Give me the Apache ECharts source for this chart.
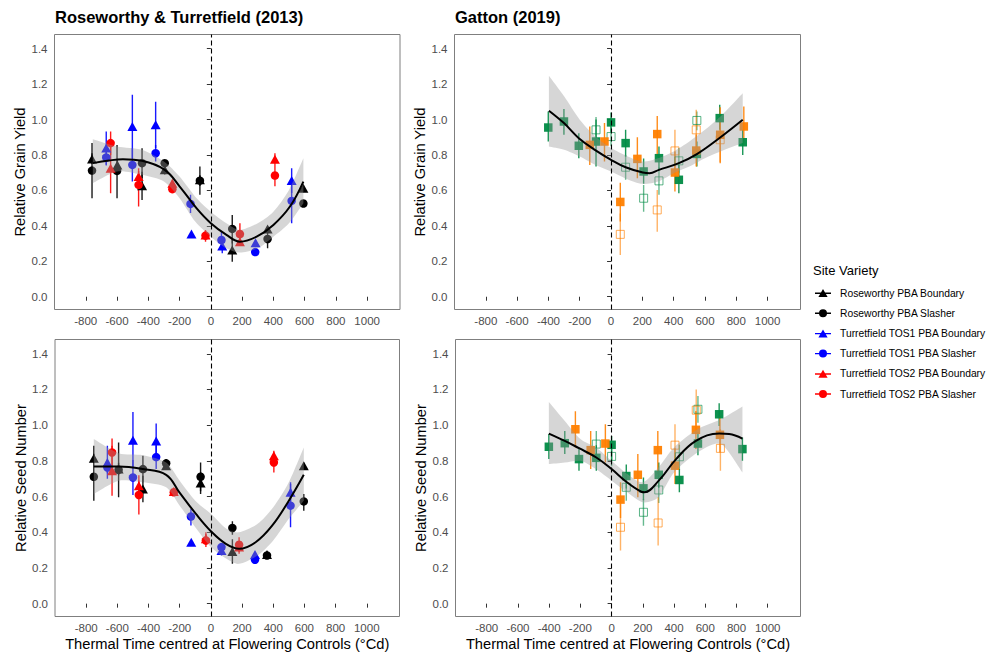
<!DOCTYPE html>
<html>
<head>
<meta charset="utf-8">
<script src="https://cdn.jsdelivr.net/npm/echarts@6/dist/echarts.min.js"></script>
<style>
html,body{margin:0;padding:0;background:#ffffff;}
#chart{width:987px;height:657px;}
</style>
</head>
<body>
<div id="chart"></div>
<script>
// ---------- texts and ticks ----------
const xTicks = [-800, -600, -400, -200, 0, 200, 400, 600, 800, 1000];
const yTicks = [0, 0.2, 0.4, 0.6, 0.8, 1.0, 1.2, 1.4];
const panelTitles = ['Roseworthy & Turretfield (2013)', 'Gatton (2019)'];
const yAxisNames = ['Relative Grain Yield', 'Relative Seed Number'];
const xAxisName = 'Thermal Time centred at Flowering Controls (°Cd)';
const legendTitle = 'Site Variety';
const legendNames = ['Roseworthy PBA Boundary', 'Roseworthy PBA Slasher',
  'Turretfield TOS1 PBA Boundary', 'Turretfield TOS1 PBA Slasher',
  'Turretfield TOS2 PBA Boundary', 'Turretfield TOS2 PBA Slasher'];

// ---------- Grain yield, Roseworthy & Turretfield: [x, y, low, high] ----------
const gyRwBoundary = [[-760,0.778,0.75,0.81],[-598,0.744,0.71,0.77],[-440,0.626,0.546,0.706],[-295,0.716,0.69,0.74],[-70,0.660,0.575,0.735],[137,0.264,0.198,0.33],[363,0.383,0.368,0.398],[592,0.612,0.59,0.63]];
const gyRwSlasher = [[-760,0.712,0.556,0.867],[-600,0.710,0.556,0.857],[-440,0.754,0.67,0.838],[-295,0.754,0.735,0.763],[-70,0.655,0.625,0.685],[137,0.383,0.30,0.462],[363,0.326,0.273,0.38],[592,0.526,0.51,0.54]];
const gyTos1Boundary = [[-669,0.839,0.745,0.933],[-502,0.961,0.78,1.14],[-353,0.970,0.84,1.10],[-124,0.354,0.345,0.363],[73,0.286,0.245,0.327],[286,0.305,0.29,0.32],[517,0.656,0.586,0.725]];
const gyTos1Slasher = [[-669,0.786,0.74,0.83],[-502,0.744,0.65,0.838],[-353,0.810,0.763,0.857],[-130,0.524,0.472,0.575],[68,0.320,0.27,0.37],[284,0.252,0.24,0.264],[517,0.541,0.415,0.667]];
const gyTos2Boundary = [[-641,0.725,0.584,0.866],[-462,0.678,0.65,0.71],[-246,0.640,0.62,0.66],[-34,0.349,0.32,0.377],[186,0.311,0.292,0.33],[410,0.776,0.744,0.81]];
const gyTos2Slasher = [[-641,0.867,0.80,0.933],[-462,0.631,0.509,0.725],[-246,0.607,0.59,0.625],[-34,0.345,0.311,0.37],[186,0.354,0.292,0.415],[410,0.684,0.624,0.744]];

// ---------- Seed number, Roseworthy & Turretfield ----------
const snRwBoundary = [[-751,0.814,0.79,0.84],[-592,0.754,0.72,0.79],[-436,0.642,0.568,0.716],[-287,0.773,0.75,0.795],[-66,0.676,0.614,0.738],[138,0.292,0.223,0.361],[360,0.276,0.26,0.29],[596,0.773,0.76,0.79]];
const snRwSlasher = [[-751,0.711,0.577,0.884],[-592,0.750,0.596,0.903],[-436,0.754,0.68,0.829],[-287,0.786,0.76,0.81],[-66,0.711,0.63,0.791],[138,0.424,0.386,0.462],[360,0.270,0.26,0.28],[596,0.573,0.521,0.614]];
const snTos1Boundary = [[-664,0.791,0.70,0.884],[-500,0.916,0.758,1.074],[-351,0.912,0.815,1.009],[-126,0.344,0.335,0.355],[68,0.298,0.27,0.33],[283,0.276,0.265,0.29],[511,0.624,0.57,0.68]];
const snTos1Slasher = [[-664,0.763,0.73,0.80],[-500,0.707,0.609,0.805],[-351,0.821,0.754,0.888],[-128,0.488,0.438,0.531],[68,0.317,0.29,0.34],[283,0.246,0.235,0.257],[511,0.549,0.428,0.67]];
const snTos2Boundary = [[-634,0.745,0.605,0.885],[-462,0.661,0.63,0.69],[-238,0.629,0.61,0.65],[-32,0.363,0.33,0.40],[181,0.317,0.29,0.345],[404,0.829,0.80,0.856]];
const snTos2Slasher = [[-634,0.847,0.77,0.925],[-462,0.609,0.50,0.72],[-238,0.624,0.61,0.64],[-32,0.354,0.317,0.39],[181,0.330,0.28,0.372],[404,0.791,0.735,0.846]];

// ---------- Grain yield, Gatton ----------
const gyGatGreenFilled = [[-401,0.955,0.876,1.046],[-301,0.989,0.914,1.059],[-206,0.852,0.782,0.923],[-96,0.876,0.735,1.0],[0,0.984,0.93,1.04],[93,0.867,0.79,0.942],[208,0.707,0.637,0.78],[306,0.782,0.716,0.848],[433,0.660,0.584,0.744],[548,0.806,0.735,0.876],[694,1.008,0.942,1.083],[841,0.872,0.80,0.942]];
const gyGatGreenOpen = [[-96,0.942,0.87,1.014],[0,0.904,0.85,0.96],[93,0.731,0.66,0.80],[208,0.556,0.48,0.63],[306,0.654,0.575,0.73],[433,0.767,0.70,0.84],[548,0.995,0.94,1.046]];
const gyGatOrangeFilled = [[-136,0.857,0.744,0.961],[-42,0.876,0.763,0.98],[59,0.535,0.425,0.644],[168,0.778,0.669,0.90],[295,0.918,0.79,1.02],[408,0.701,0.594,0.82],[544,0.825,0.735,0.915],[697,0.914,0.754,1.07],[848,0.961,0.857,1.074]];
const gyGatOrangeOpen = [[59,0.352,0.235,0.47],[295,0.490,0.367,0.603],[408,0.823,0.70,0.942],[544,0.942,0.82,1.055],[697,0.886,0.76,1.01]];

// ---------- Seed number, Gatton ----------
const snGatGreenFilled = [[-402,0.879,0.81,0.95],[-300,0.899,0.838,0.968],[-209,0.810,0.745,0.875],[-98,0.817,0.745,0.887],[0,0.890,0.80,0.94],[94,0.715,0.645,0.78],[204,0.646,0.58,0.707],[302,0.722,0.65,0.791],[434,0.693,0.624,0.754],[553,0.897,0.832,0.962],[689,1.061,0.996,1.123],[838,0.866,0.80,0.931]];
const snGatGreenOpen = [[-98,0.894,0.82,0.968],[0,0.825,0.77,0.88],[94,0.652,0.577,0.727],[204,0.512,0.437,0.587],[302,0.637,0.564,0.71],[434,0.823,0.75,0.89],[553,1.089,1.014,1.164]];
const snGatOrangeFilled = [[-232,0.977,0.875,1.078],[-134,0.860,0.754,0.968],[-40,0.897,0.791,1.005],[57,0.583,0.48,0.68],[168,0.722,0.596,0.838],[296,0.860,0.726,0.968],[406,0.773,0.67,0.87],[540,0.974,0.866,1.08],[694,0.946,0.847,1.052]];
const snGatOrangeOpen = [[57,0.428,0.298,0.56],[298,0.452,0.326,0.596],[406,0.888,0.77,1.005],[542,1.084,0.96,1.20],[697,0.870,0.745,0.977]];

// ---------- smooth fits [x, y] and confidence ribbons [x, low, high] ----------
const fitGyRt = [[-755,0.754],[-650,0.769],[-562,0.776],[-440,0.767],[-295,0.716],[-199,0.622],[-92,0.50],[0,0.415],[100,0.349],[186,0.311],[293,0.339],[400,0.405],[506,0.509],[592,0.65]];
const ciGyRt = [[-755,0.641,0.889],[-600,0.707,0.848],[-440,0.688,0.829],[-300,0.65,0.763],[-200,0.556,0.678],[-100,0.424,0.565],[0,0.339,0.48],[100,0.273,0.415],[186,0.249,0.377],[300,0.273,0.415],[400,0.339,0.48],[500,0.415,0.603],[592,0.528,0.782]];
const fitGyGat = [[-397,1.05],[-301,0.98],[-206,0.895],[-96,0.825],[0,0.773],[93,0.731],[204,0.701],[246,0.697],[306,0.716],[433,0.754],[548,0.805],[697,0.899],[841,0.999]];
const ciGyGat = [[-397,0.848,1.247],[-300,0.829,1.131],[-200,0.791,0.999],[-100,0.744,0.904],[0,0.707,0.839],[100,0.665,0.795],[200,0.637,0.763],[300,0.65,0.782],[400,0.697,0.82],[500,0.735,0.876],[600,0.782,0.942],[700,0.82,1.018],[841,0.867,1.149]];
const fitSnRt = [[-751,0.769],[-592,0.769],[-436,0.754],[-287,0.722],[-202,0.624],[-96,0.503],[0,0.406],[96,0.335],[181,0.307],[287,0.344],[394,0.438],[500,0.577],[596,0.722]];
const ciSnRt = [[-751,0.614,0.922],[-592,0.689,0.843],[-436,0.68,0.832],[-287,0.652,0.791],[-200,0.549,0.689],[-100,0.428,0.577],[0,0.317,0.503],[100,0.251,0.419],[181,0.223,0.40],[300,0.27,0.447],[400,0.354,0.54],[500,0.475,0.68],[596,0.577,0.875]];
const fitSnGat = [[-402,0.953],[-300,0.912],[-209,0.871],[-98,0.819],[0,0.754],[94,0.683],[190,0.627],[210,0.624],[302,0.689],[413,0.81],[540,0.912],[689,0.953],[753,0.95],[838,0.925]];
const ciSnGat = [[-402,0.782,1.13],[-300,0.791,1.024],[-200,0.80,0.922],[-100,0.754,0.875],[0,0.689,0.80],[100,0.624,0.726],[200,0.568,0.68],[300,0.596,0.763],[400,0.735,0.875],[550,0.847,0.977],[700,0.894,1.033],[838,0.735,1.104]];

// ---------- styling ----------
const FONT = '"Liberation Sans", Arial, Helvetica, sans-serif';
const BLACK = '#000000', BLUE = '#0000FF', RED = '#FF0000';
const GREEN = '#008B45', ORANGE = '#FF8000';
const triIcon = 'path://M0,4.3H16V5.7H0Z M8,0.8L12.6,8.8H3.4Z';
const circIcon = 'path://M0,4.3H16V5.7H0Z M4,5A4,4 0 1,1 12,5A4,4 0 1,1 4,5Z';

const grids = [
  {left: 54.5, top: 34.5, width: 345.5, height: 275},
  {left: 454.5, top: 34.5, width: 346, height: 275},
  {left: 55, top: 339.5, width: 344.5, height: 277},
  {left: 455.5, top: 339.5, width: 345, height: 277}
];

const panels = [
  {g: 0, fit: fitGyRt, ci: ciGyRt, groups: [
    {name: legendNames[0], data: gyRwBoundary, color: BLACK, shape: 'tri'},
    {name: legendNames[1], data: gyRwSlasher, color: BLACK, shape: 'circ'},
    {name: legendNames[2], data: gyTos1Boundary, color: BLUE, shape: 'tri'},
    {name: legendNames[3], data: gyTos1Slasher, color: BLUE, shape: 'circ'},
    {name: legendNames[4], data: gyTos2Boundary, color: RED, shape: 'tri'},
    {name: legendNames[5], data: gyTos2Slasher, color: RED, shape: 'circ'}]},
  {g: 1, fit: fitGyGat, ci: ciGyGat, groups: [
    {name: 'Gatton A', data: gyGatGreenFilled, color: GREEN, shape: 'sq'},
    {name: 'Gatton B', data: gyGatGreenOpen, color: GREEN, shape: 'open'},
    {name: 'Gatton C', data: gyGatOrangeFilled, color: ORANGE, shape: 'sq'},
    {name: 'Gatton D', data: gyGatOrangeOpen, color: ORANGE, shape: 'open'}]},
  {g: 2, fit: fitSnRt, ci: ciSnRt, groups: [
    {name: legendNames[0], data: snRwBoundary, color: BLACK, shape: 'tri'},
    {name: legendNames[1], data: snRwSlasher, color: BLACK, shape: 'circ'},
    {name: legendNames[2], data: snTos1Boundary, color: BLUE, shape: 'tri'},
    {name: legendNames[3], data: snTos1Slasher, color: BLUE, shape: 'circ'},
    {name: legendNames[4], data: snTos2Boundary, color: RED, shape: 'tri'},
    {name: legendNames[5], data: snTos2Slasher, color: RED, shape: 'circ'}]},
  {g: 3, fit: fitSnGat, ci: ciSnGat, groups: [
    {name: 'Gatton A', data: snGatGreenFilled, color: GREEN, shape: 'sq'},
    {name: 'Gatton B', data: snGatGreenOpen, color: GREEN, shape: 'open'},
    {name: 'Gatton C', data: snGatOrangeFilled, color: ORANGE, shape: 'sq'},
    {name: 'Gatton D', data: snGatOrangeOpen, color: ORANGE, shape: 'open'}]}
];

// Catmull-Rom -> cubic bezier path through pixel points
function curvePath(pts, start) {
  let s = start ? ('M' + pts[0][0] + ',' + pts[0][1]) : ('L' + pts[0][0] + ',' + pts[0][1]);
  const t = 0.8;
  for (let i = 0; i < pts.length - 1; i++) {
    const p0 = pts[Math.max(0, i - 1)], p1 = pts[i], p2 = pts[i + 1], p3 = pts[Math.min(pts.length - 1, i + 2)];
    const c1x = p1[0] + (p2[0] - p0[0]) / 6 * t, c1y = p1[1] + (p2[1] - p0[1]) / 6 * t;
    const c2x = p2[0] - (p3[0] - p1[0]) / 6 * t, c2y = p2[1] - (p3[1] - p1[1]) / 6 * t;
    s += 'C' + c1x + ',' + c1y + ' ' + c2x + ',' + c2y + ' ' + p2[0] + ',' + p2[1];
  }
  return s;
}

const series = [];
panels.forEach(function (p) {
  // error bars
  p.groups.forEach(function (grp) {
    const col = grp.color;
    const op = grp.shape === 'open' ? 0.6 : 0.9;
    series.push({
      type: 'custom', name: grp.name + ' (error)', xAxisIndex: p.g, yAxisIndex: p.g,
      data: grp.data.map(function (d) { return [d[0], d[2], d[3]]; }),
      encode: {x: 0, y: [1, 2]}, silent: true, z: 2, clip: true,
      renderItem: function (params, api) {
        const a = api.coord([api.value(0), api.value(1)]);
        const b = api.coord([api.value(0), api.value(2)]);
        return {type: 'line', shape: {x1: a[0], y1: a[1], x2: b[0], y2: b[1]},
          style: {stroke: col, lineWidth: 1.4, opacity: op}};
      }
    });
  });
  // points
  p.groups.forEach(function (grp) {
    const s = {type: 'scatter', name: grp.name, xAxisIndex: p.g, yAxisIndex: p.g,
      data: grp.data.map(function (d) { return [d[0], d[1]]; }), z: 2, silent: true};
    if (grp.shape === 'tri') { s.symbol = 'triangle'; s.symbolSize = [10, 9]; s.itemStyle = {color: grp.color, opacity: 1}; }
    else if (grp.shape === 'circ') { s.symbol = 'circle'; s.symbolSize = 8.5; s.itemStyle = {color: grp.color, opacity: 1}; }
    else if (grp.shape === 'sq') { s.symbol = 'rect'; s.symbolSize = 8.5; s.itemStyle = {color: grp.color, opacity: 0.95}; }
    else { s.symbol = 'rect'; s.symbolSize = 8; s.itemStyle = {color: 'rgba(0,0,0,0)', borderColor: grp.color, borderWidth: 1, opacity: 0.65}; }
    series.push(s);
  });
  // confidence ribbon drawn as one filled path through the axis scales
  const ci = p.ci;
  series.push({
    type: 'custom', name: 'ribbon ' + p.g, xAxisIndex: p.g, yAxisIndex: p.g,
    data: ci.map(function (d) { return [d[0], d[1], d[2]]; }),
    encode: {x: 0, y: [1, 2]}, silent: true, z: 3, clip: true,
    renderItem: function (params, api) {
      if (params.dataIndex !== 0) { return null; }
      const up = ci.map(function (d) { return api.coord([d[0], d[2]]); });
      const lo = ci.map(function (d) { return api.coord([d[0], d[1]]); }).reverse();
      const path = curvePath(up, true) + curvePath(lo, false) + 'Z';
      return {type: 'path', shape: {pathData: path},
        style: {fill: 'rgba(153,153,153,0.4)', stroke: null}};
    }
  });
  // fit line + dashed zero line
  series.push({type: 'line', name: 'fit ' + p.g, xAxisIndex: p.g, yAxisIndex: p.g,
    data: p.fit, symbol: 'none', smooth: 0.4, lineStyle: {color: '#000', width: 2}, z: 4, silent: true,
    markLine: {silent: true, symbol: ['none', 'none'], label: {show: false},
      lineStyle: {color: '#000', type: [5, 3], width: 1.1}, data: [{xAxis: 0}]}});
});

const xAxes = grids.map(function (g, i) {
  return {type: 'value', gridIndex: i, min: -1000, max: 1210,
    axisLine: {show: false}, splitLine: {show: false},
    axisTick: {show: true, length: 4, customValues: xTicks, lineStyle: {color: '#333333', width: 1}},
    axisLabel: {customValues: xTicks, color: '#4d4d4d', fontSize: 11.5, margin: 5, fontFamily: FONT,
      formatter: function (v) { return String(Math.round(v)); }},
    name: i >= 2 ? xAxisName : '', nameLocation: 'middle', nameGap: 20,
    nameTextStyle: {fontSize: 14.7, color: '#000', fontFamily: FONT}};
});
const yAxes = grids.map(function (g, i) {
  return {type: 'value', gridIndex: i, min: -0.072, max: 1.48,
    axisLine: {show: false}, splitLine: {show: false},
    axisTick: {show: true, length: 4, customValues: yTicks, lineStyle: {color: '#333333', width: 1}},
    axisLabel: {customValues: yTicks, color: '#4d4d4d', fontSize: 11.5, margin: 7, fontFamily: FONT,
      formatter: function (v) { return Number(v).toFixed(1); }},
    name: yAxisNames[i < 2 ? 0 : 1], nameLocation: 'middle', nameGap: 26, nameRotate: 90,
    nameTextStyle: {fontSize: 14.7, color: '#000', fontFamily: FONT}};
});

const legendColors = [BLACK, BLACK, BLUE, BLUE, RED, RED];
const option = {
  backgroundColor: '#ffffff',
  animation: false,
  textStyle: {fontFamily: FONT},
  title: [
    {text: panelTitles[0], left: 55, top: 8, padding: 0, textStyle: {fontSize: 16.5, fontWeight: 'bold', color: '#000', fontFamily: FONT}},
    {text: panelTitles[1], left: 455, top: 8, padding: 0, textStyle: {fontSize: 16.5, fontWeight: 'bold', color: '#000', fontFamily: FONT}},
    {text: legendTitle, left: 813, top: 264, padding: 0, textStyle: {fontSize: 13, fontWeight: 'normal', color: '#000', fontFamily: FONT}}
  ],
  legend: {
    orient: 'vertical', left: 815, top: 288, padding: 0,
    itemWidth: 16, itemHeight: 10, itemGap: 10.2, selectedMode: false,
    textStyle: {fontSize: 10.3, color: '#000', fontFamily: FONT, padding: [0, 0, 0, 4]},
    data: legendNames.map(function (n, i) {
      return {name: n, icon: i % 2 === 0 ? triIcon : circIcon,
        itemStyle: {color: legendColors[i], opacity: 1, borderWidth: 0}};
    })
  },
  grid: grids.map(function (g) {
    return {left: g.left, top: g.top, width: g.width, height: g.height, show: true,
      borderColor: '#7f7f7f', borderWidth: 1, backgroundColor: 'rgba(0,0,0,0)'};
  }),
  xAxis: xAxes,
  yAxis: yAxes,
  series: series
};

const chart = echarts.init(document.getElementById('chart'), null, {renderer: 'svg'});
chart.setOption(option);
</script>
</body>
</html>
